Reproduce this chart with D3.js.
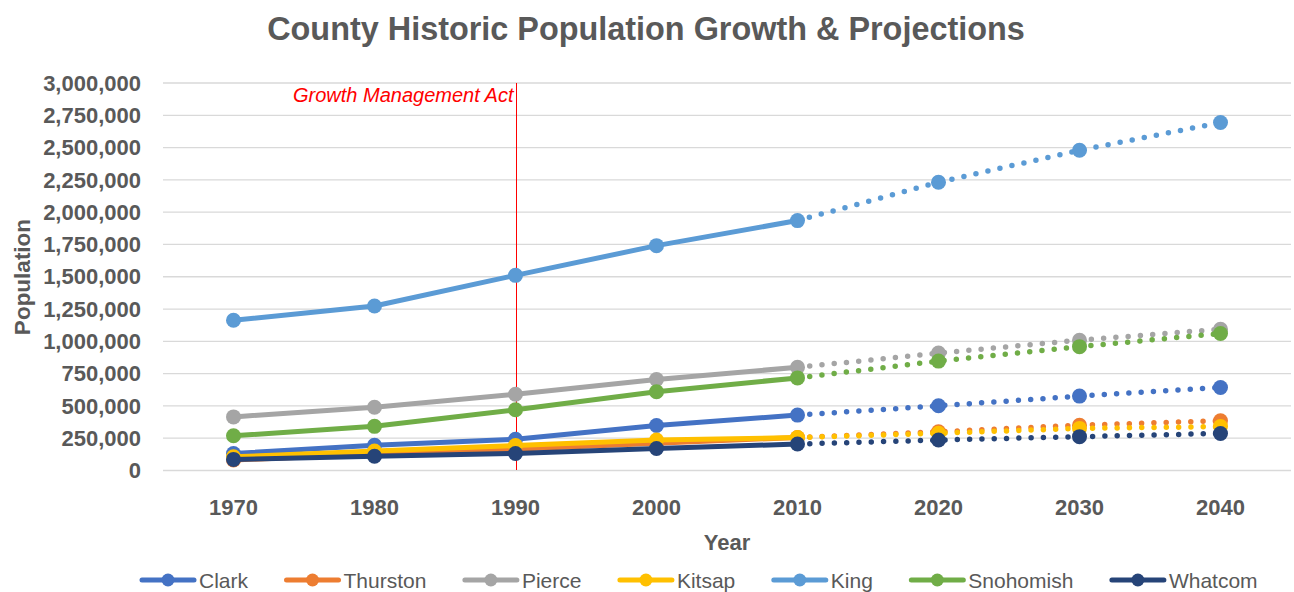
<!DOCTYPE html>
<html>
<head>
<meta charset="utf-8">
<script src="https://cdn.jsdelivr.net/npm/d3@7"></script>
<style>
  body { margin: 0; background: #fff; }
  text { font-family: "Liberation Sans", Arial, sans-serif; }
</style>
</head>
<body>
<div id="chart"></div>
<script>
const years = ["1970", "1980", "1990", "2000", "2010", "2020", "2030", "2040"];
const clark = [128000, 192000, 238000, 345000, 425000, 497000, 572000, 639000];
const thurston = [77000, 124000, 161000, 207000, 252000, 296000, 347000, 381000];
const pierce = [411000, 486000, 586000, 701000, 795000, 905000, 1005000, 1090000];
const kitsap = [102000, 147000, 190000, 232000, 251000, 285000, 322000, 336000];
const king = [1159000, 1270000, 1507000, 1737000, 1931000, 2228000, 2475000, 2690000];
const snohomish = [265000, 338000, 466000, 606000, 713000, 843000, 955000, 1057000];
const whatcom = [82000, 107000, 128000, 167000, 201000, 232000, 258000, 283000];
const lastHistoric = "2010";
const gmaYear = "1990";

const series = [
  {name: "Clark", values: clark, color: "#4472C4"},
  {name: "Thurston", values: thurston, color: "#ED7D31"},
  {name: "Pierce", values: pierce, color: "#A5A5A5"},
  {name: "Kitsap", values: kitsap, color: "#FFC000"},
  {name: "King", values: king, color: "#5B9BD5"},
  {name: "Snohomish", values: snohomish, color: "#70AD47"},
  {name: "Whatcom", values: whatcom, color: "#264478"}
];

const W = 1294, H = 592;
const margin = {top: 82.5, right: 3, bottom: 122, left: 163};
const width = W - margin.left - margin.right;
const height = H - margin.top - margin.bottom;
const grey = "#595959";

const root = d3.select("#chart").append("svg")
    .attr("width", W)
    .attr("height", H);

root.append("text")
    .attr("x", 646).attr("y", 40)
    .attr("text-anchor", "middle")
    .attr("font-size", 32.4).attr("font-weight", "bold")
    .attr("fill", grey)
    .text("County Historic Population Growth & Projections");

const svg = root.append("g")
    .attr("transform", `translate(${margin.left},${margin.top})`);

const x = d3.scaleBand().domain(years).range([0, width]);
const cx = d => x(d) + x.bandwidth() / 2;

const y = d3.scaleLinear().domain([0, 3000000]).range([height, 0]);

// gridlines + y labels
const yAxis = svg.append("g")
    .call(d3.axisLeft(y).tickValues(d3.range(0, 3000001, 250000))
      .tickSize(-width).tickPadding(22).tickFormat(d3.format(",")));
yAxis.select(".domain").remove();
yAxis.selectAll("line").attr("stroke", "#d9d9d9").attr("stroke-width", 1.3);
yAxis.selectAll("text")
    .attr("font-size", 22).attr("font-weight", "bold").attr("fill", grey)
    .attr("font-family", "Liberation Sans, Arial, sans-serif")
    .attr("dy", "0.35em");

const xAxis = svg.append("g")
    .attr("transform", `translate(0,${height})`)
    .call(d3.axisBottom(x).tickSize(0).tickPadding(29));
xAxis.select(".domain").remove();
xAxis.selectAll("text")
    .attr("font-size", 22).attr("font-weight", "bold").attr("fill", grey)
    .attr("font-family", "Liberation Sans, Arial, sans-serif");

// Growth Management Act marker
const gx = Math.round(cx(gmaYear)) + 0.5;
svg.append("line")
    .attr("x1", gx).attr("x2", gx)
    .attr("y1", 0).attr("y2", height)
    .attr("stroke", "#ff0000").attr("stroke-width", 1.2)
    .attr("shape-rendering", "crispEdges");
svg.append("text")
    .attr("x", gx - 3).attr("y", 19)
    .attr("text-anchor", "end")
    .attr("font-size", 20).attr("font-style", "italic")
    .attr("fill", "#ff0000")
    .text("Growth Management Act");

// series
const line = d3.line().x(d => cx(d.year)).y(d => y(d.value));
const split = years.indexOf(lastHistoric);

series.forEach(s => {
  const pts = years.map((yr, i) => ({year: yr, value: s.values[i]}));
  const g = svg.append("g");
  g.append("path")
      .attr("d", line(pts.slice(0, split + 1)))
      .attr("fill", "none").attr("stroke", s.color)
      .attr("stroke-width", 5).attr("stroke-linejoin", "round").attr("stroke-linecap", "round");
  g.append("path")
      .attr("d", line(pts.slice(split)))
      .attr("fill", "none").attr("stroke", s.color)
      .attr("stroke-width", 5.5).attr("stroke-linecap", "round")
      .attr("stroke-dasharray", "0,12.3");
  g.selectAll("circle")
      .data(pts)
      .enter()
      .append("circle")
      .attr("cx", d => cx(d.year))
      .attr("cy", d => y(d.value))
      .attr("r", 7.5)
      .attr("fill", s.color);
});

// axis titles
root.append("text")
    .attr("x", 727).attr("y", 550)
    .attr("text-anchor", "middle")
    .attr("font-size", 22).attr("font-weight", "bold").attr("fill", grey)
    .text("Year");
root.append("text")
    .attr("transform", "translate(30,277) rotate(-90)")
    .attr("text-anchor", "middle")
    .attr("font-size", 22.5).attr("font-weight", "bold").attr("fill", grey)
    .text("Population");

// legend
const legend = root.append("g").attr("transform", "translate(140,580)");
let lx = 0;
series.forEach(s => {
  const item = legend.append("g").attr("transform", `translate(${lx},0)`);
  item.append("line")
      .attr("x1", 2).attr("x2", 54)
      .attr("stroke", s.color).attr("stroke-width", 5).attr("stroke-linecap", "round");
  item.append("circle").attr("cx", 28).attr("r", 6.5).attr("fill", s.color);
  const t = item.append("text")
      .attr("x", 59).attr("y", 8)
      .attr("font-size", 21).attr("fill", grey)
      .text(s.name);
  lx += 59 + t.node().getComputedTextLength() + 36.5;
});
</script>
</body>
</html>
